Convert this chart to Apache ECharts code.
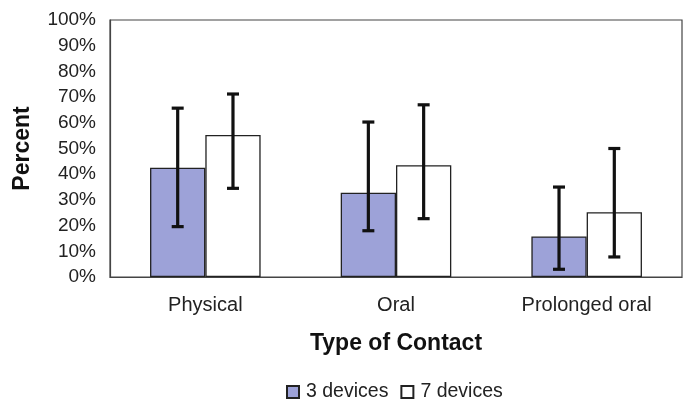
<!DOCTYPE html>
<html>
<head>
<meta charset="utf-8">
<script src="https://cdn.jsdelivr.net/npm/echarts@6/dist/echarts.min.js"></script>
<style>
  html, body { margin: 0; padding: 0; background: #fff; }
  #chart { width: 691px; height: 401px; }
</style>
</head>
<body>
<div id="chart"></div>
<script>
// 数据
const categories = ['Physical', 'Oral', 'Prolonged oral'];
const yTicks = [0, 10, 20, 30, 40, 50, 60, 70, 80, 90, 100];
const dev3 = [42.5, 32.8, 15.8];
const dev3Low = [19.6, 18, 3];
const dev3High = [65.7, 60.3, 35];
const dev7 = [55.3, 43.5, 25.2];
const dev7Low = [34.5, 22.7, 7.8];
const dev7High = [71.2, 67, 50];

const font = 'Arial, "Liberation Sans", sans-serif';

// 误差线
function errBar(idx, low, high) {
  return {
    type: 'custom',
    name: idx === 0 ? '3 devices' : '7 devices',
    data: categories.map((c, i) => [i, low[i], high[i]]),
    z: 10,
    silent: true,
    renderItem: function (params, api) {
      const i = api.value(0);
      const lo = api.coord([i, api.value(1)]);
      const hi = api.coord([i, api.value(2)]);
      const band = api.size([1, 0])[0];
      const barW = band * 0.29;
      const x = lo[0] + (idx === 0 ? -barW / 2 : barW / 2);
      const cap = 6;
      const st = { stroke: '#111', lineWidth: 3.2 };
      return {
        type: 'group',
        children: [
          { type: 'line', shape: { x1: x, y1: hi[1], x2: x, y2: lo[1] }, style: st },
          { type: 'line', shape: { x1: x - cap, y1: hi[1], x2: x + cap, y2: hi[1] }, style: st },
          { type: 'line', shape: { x1: x - cap, y1: lo[1], x2: x + cap, y2: lo[1] }, style: st }
        ]
      };
    },
    tooltip: { show: false }
  };
}

let myChart = echarts.init(document.getElementById('chart'));
const option = {
  animation: false,
  textStyle: { fontFamily: font },
  grid: {
    left: 110, right: 9, top: 20, bottom: 124,
    show: true, borderColor: '#444', borderWidth: 1.2
  },
  legend: {
    top: 377,
    left: 281,
    icon: 'rect',
    itemWidth: 12, itemHeight: 12, itemGap: 12,
    data: ['3 devices', '7 devices'],
    textStyle: { fontSize: 19.5, color: '#222', fontFamily: font, padding: [0, 0, 0, 2] }
  },
  xAxis: {
    type: 'category',
    data: categories,
    name: 'Type of Contact',
    nameLocation: 'middle',
    nameGap: 55,
    nameTextStyle: { fontSize: 23, fontWeight: 'bold', color: '#111' },
    axisLine: { lineStyle: { color: '#444', width: 1.2 } },
    axisTick: { show: false },
    axisLabel: { fontSize: 20, color: '#222', margin: 18 }
  },
  yAxis: {
    type: 'value',
    min: 0, max: 100, interval: 10,
    name: 'Percent',
    nameLocation: 'middle',
    nameGap: 76,
    nameTextStyle: { fontSize: 23, fontWeight: 'bold', color: '#111' },
    axisLine: { show: true, lineStyle: { color: '#444', width: 1.2 } },
    axisTick: { show: false },
    splitLine: { show: false },
    axisLabel: { fontSize: 19, color: '#222', margin: 14, formatter: v => yTicks.includes(v) ? v + '%' : '' }
  },
  series: [
    {
      name: '3 devices', type: 'bar', data: dev3,
      barWidth: '29%', barGap: '0%',
      itemStyle: { color: '#9da2d8', borderColor: '#222', borderWidth: 1.3 }
    },
    {
      name: '7 devices', type: 'bar', data: dev7,
      barWidth: '29%', barGap: '0%',
      itemStyle: { color: '#ffffff', borderColor: '#222', borderWidth: 1.3 }
    },
    errBar(0, dev3Low, dev3High),
    errBar(1, dev7Low, dev7High)
  ]
};
myChart.setOption(option);
</script>
</body>
</html>
